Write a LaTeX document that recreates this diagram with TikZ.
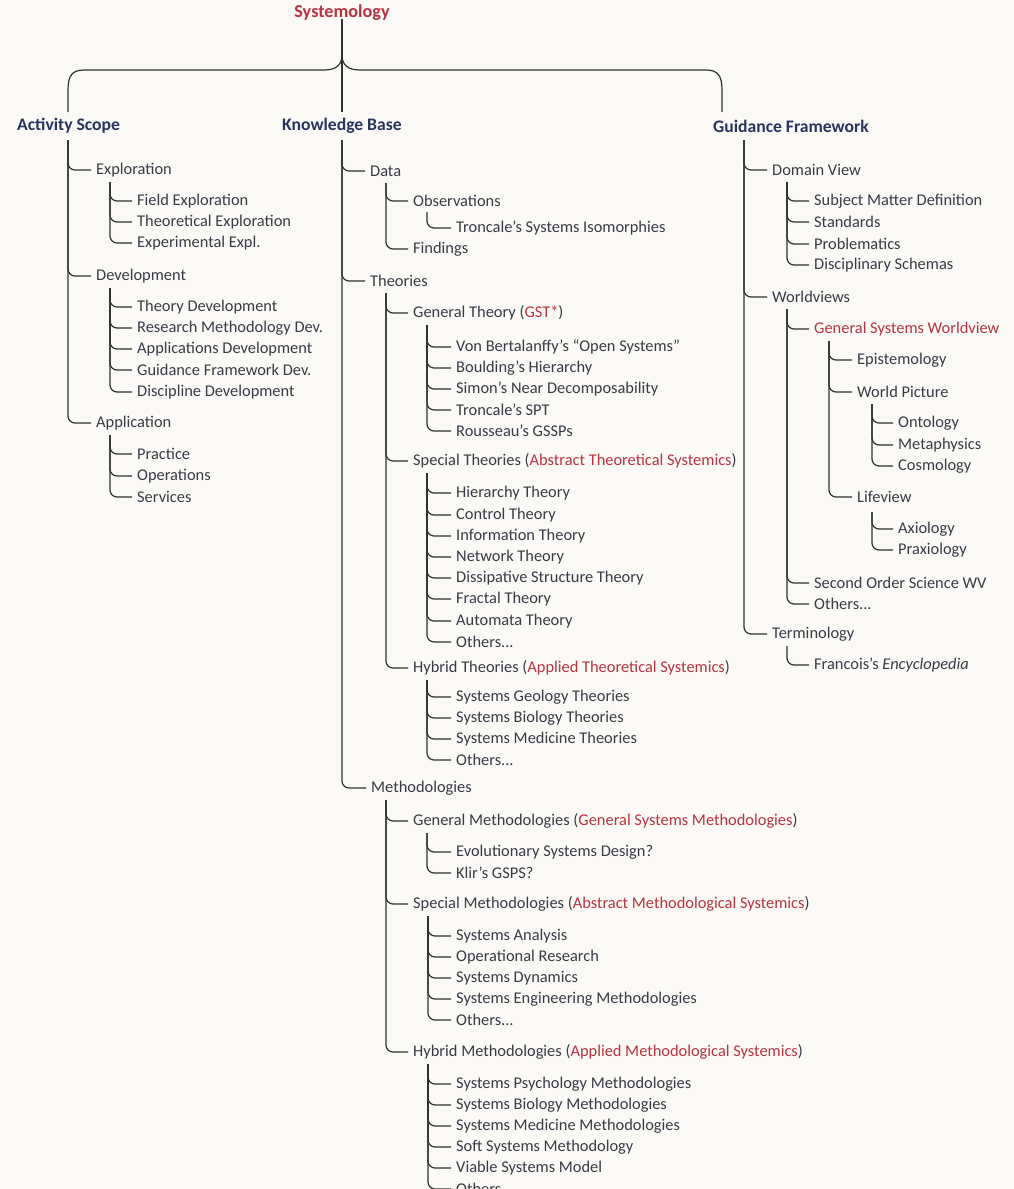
\documentclass[tikz,border=0pt]{standalone}
\usepackage{fontspec}
\setmainfont{Carlito}
\usetikzlibrary{calc}
\definecolor{bg}{HTML}{FBF9F6}
\definecolor{txt}{HTML}{3A3A46}
\definecolor{head}{HTML}{27345E}
\definecolor{accent}{HTML}{B83440}
\definecolor{ln}{HTML}{303030}
\newcommand\mykid[5]{\node[item] (#1) at (#3,#4) {#5}; \draw[conn] (#2) |- ([xshift=-5pt]#1.west);}
\begin{document}
\begin{tikzpicture}[x=1pt,y=-1pt,
 item/.style={anchor=west,inner sep=0pt,font=\fontsize{16.4}{19}\selectfont,text=txt},
 headnode/.style={anchor=west,inner sep=0pt,font=\fontsize{17.6}{20}\selectfont\bfseries,text=head},
 conn/.style={draw=ln,line width=1.2pt,rounded corners=7pt}]
\fill[bg] (0,0) rectangle (1014,1189);
\useasboundingbox (0,0) rectangle (1014,1189);
\clip (0,0) rectangle (1014,1189);

% root
\node[anchor=center,inner sep=0pt,font=\fontsize{18.2}{20}\selectfont\bfseries,text=accent] (sys) at (342,13) {Systemology};
\coordinate (tip) at (342,55);
\node[headnode] (as) at (17,126) {Activity Scope};
\node[headnode] (kb) at (282,126) {Knowledge Base};
\node[headnode] (gf) at (713,126) {Guidance Framework};
\coordinate (as-top) at (68,112);
\coordinate (kb-top) at (342,112);
\coordinate (gf-top) at (722,112);
\draw[conn] ([yshift=2pt]sys.south) -- (kb-top);
\draw[conn,rounded corners=0pt] (tip) .. controls (342,65) and (336,70) .. (324,70) -- (84,70) .. controls (72,70) and (68,76) .. (68,90) -- (as-top);
\draw[conn,rounded corners=0pt] (tip) .. controls (342,65) and (348,70) .. (360,70) -- (706,70) .. controls (718,70) and (722,76) .. (722,90) -- (gf-top);

% ---------------- Activity Scope
\coordinate (t-as) at (68,140);
\mykid{exp}{t-as}{96}{170}{Exploration}
\coordinate (t-exp) at (110,182);
\mykid{fe}{t-exp}{137}{201}{Field Exploration}
\mykid{te}{t-exp}{137}{222}{Theoretical Exploration}
\mykid{ee}{t-exp}{137}{243}{Experimental Expl.}
\mykid{dev}{t-as}{96}{276}{Development}
\coordinate (t-dev) at (110,288);
\mykid{tdv}{t-dev}{137}{307}{Theory Development}
\mykid{rmd}{t-dev}{137}{328}{Research Methodology Dev.}
\mykid{apd}{t-dev}{137}{349}{Applications Development}
\mykid{gfd}{t-dev}{137}{370}{Guidance Framework Dev.}
\mykid{dsd}{t-dev}{137}{392}{Discipline Development}
\mykid{app}{t-as}{96}{423}{Application}
\coordinate (t-app) at (110,435);
\mykid{pra}{t-app}{137}{454}{Practice}
\mykid{ope}{t-app}{137}{476}{Operations}
\mykid{ser}{t-app}{137}{497}{Services}

% ---------------- Knowledge Base
\coordinate (t-kb) at (342,140);
\mykid{data}{t-kb}{370}{171}{Data}
\coordinate (t-data) at (386,183);
\mykid{obs}{t-data}{413}{201}{Observations}
\coordinate (t-obs) at (427,212);
\mykid{tsi}{t-obs}{456}{228}{Troncale’s Systems Isomorphies}
\mykid{fin}{t-data}{413}{249}{Findings}
\mykid{the}{t-kb}{370}{281}{Theories}
\coordinate (t-the) at (386,293);
\mykid{gt}{t-the}{413}{313}{General Theory (\textcolor{accent}{GST*})}
\coordinate (t-gt) at (427,325);
\mykid{vb}{t-gt}{456}{347}{Von Bertalanffy’s “Open Systems”}
\mykid{bh}{t-gt}{456}{368}{Boulding’s Hierarchy}
\mykid{snd}{t-gt}{456}{389}{Simon’s Near Decomposability}
\mykid{tspt}{t-gt}{456}{410}{Troncale’s SPT}
\mykid{rg}{t-gt}{456}{431}{Rousseau’s GSSPs}
\mykid{st}{t-the}{413}{461}{Special Theories (\textcolor{accent}{Abstract Theoretical Systemics})}
\coordinate (t-st) at (427,473);
\mykid{hit}{t-st}{456}{493}{Hierarchy Theory}
\mykid{cot}{t-st}{456}{515}{Control Theory}
\mykid{int}{t-st}{456}{536}{Information Theory}
\mykid{net}{t-st}{456}{557}{Network Theory}
\mykid{dst}{t-st}{456}{578}{Dissipative Structure Theory}
\mykid{frt}{t-st}{456}{599}{Fractal Theory}
\mykid{aut}{t-st}{456}{621}{Automata Theory}
\mykid{sto}{t-st}{456}{642}{Others...}
\mykid{ht}{t-the}{413}{668}{Hybrid Theories (\textcolor{accent}{Applied Theoretical Systemics})}
\coordinate (t-ht) at (427,680);
\mykid{sgt}{t-ht}{456}{697}{Systems Geology Theories}
\mykid{sbt}{t-ht}{456}{718}{Systems Biology Theories}
\mykid{smt}{t-ht}{456}{739}{Systems Medicine Theories}
\mykid{hto}{t-ht}{456}{760}{Others...}
\mykid{met}{t-kb}{371}{788}{Methodologies}
\coordinate (t-met) at (386,800);
\mykid{gm}{t-met}{413}{821}{General Methodologies (\textcolor{accent}{General Systems Methodologies})}
\coordinate (t-gm) at (427,833);
\mykid{esd}{t-gm}{456}{852}{Evolutionary Systems Design?}
\mykid{klir}{t-gm}{456}{873}{Klir’s GSPS?}
\mykid{sm}{t-met}{413}{904}{Special Methodologies (\textcolor{accent}{Abstract Methodological Systemics})}
\coordinate (t-sm) at (428,916);
\mykid{san}{t-sm}{456}{936}{Systems Analysis}
\mykid{opr}{t-sm}{456}{957}{Operational Research}
\mykid{sdy}{t-sm}{456}{978}{Systems Dynamics}
\mykid{sem}{t-sm}{456}{999}{Systems Engineering Methodologies}
\mykid{smo}{t-sm}{456}{1020}{Others...}
\mykid{hm}{t-met}{413}{1052}{Hybrid Methodologies (\textcolor{accent}{Applied Methodological Systemics})}
\coordinate (t-hm) at (428,1064);
\mykid{spm}{t-hm}{456}{1084}{Systems Psychology Methodologies}
\mykid{sbm}{t-hm}{456}{1105}{Systems Biology Methodologies}
\mykid{smm}{t-hm}{456}{1126}{Systems Medicine Methodologies}
\mykid{ssm}{t-hm}{456}{1147}{Soft Systems Methodology}
\mykid{vsm}{t-hm}{456}{1168}{Viable Systems Model}
\mykid{hmo}{t-hm}{456}{1189}{Others...}

% ---------------- Guidance Framework
\coordinate (t-gf) at (744,140);
\mykid{dv}{t-gf}{772}{170}{Domain View}
\coordinate (t-dv) at (787,182);
\mykid{smd}{t-dv}{814}{201}{Subject Matter Definition}
\mykid{sta}{t-dv}{814}{222}{Standards}
\mykid{pro}{t-dv}{814}{244}{Problematics}
\mykid{dsc}{t-dv}{814}{265}{Disciplinary Schemas}
\mykid{wv}{t-gf}{772}{297}{Worldviews}
\coordinate (t-wv) at (787,309);
\mykid{gsw}{t-wv}{814}{329}{\textcolor{accent}{General Systems Worldview}}
\coordinate (t-gsw) at (829,341);
\mykid{epi}{t-gsw}{857}{360}{Epistemology}
\mykid{wp}{t-gsw}{857}{392}{World Picture}
\coordinate (t-wp) at (872,404);
\mykid{ont}{t-wp}{898}{423}{Ontology}
\mykid{mph}{t-wp}{898}{445}{Metaphysics}
\mykid{cos}{t-wp}{898}{466}{Cosmology}
\mykid{lv}{t-gsw}{857}{497}{Lifeview}
\coordinate (t-lv) at (872,512);
\mykid{axi}{t-lv}{898}{529}{Axiology}
\mykid{pxi}{t-lv}{898}{550}{Praxiology}
\mykid{sos}{t-wv}{814}{583}{Second Order Science WV}
\mykid{wvo}{t-wv}{814}{604}{Others...}
\mykid{ter}{t-gf}{772}{634}{Terminology}
\coordinate (t-ter) at (787,646);
\mykid{fra}{t-ter}{814}{665}{Francois’s \textit{Encyclopedia}}
\end{tikzpicture}
\end{document}
